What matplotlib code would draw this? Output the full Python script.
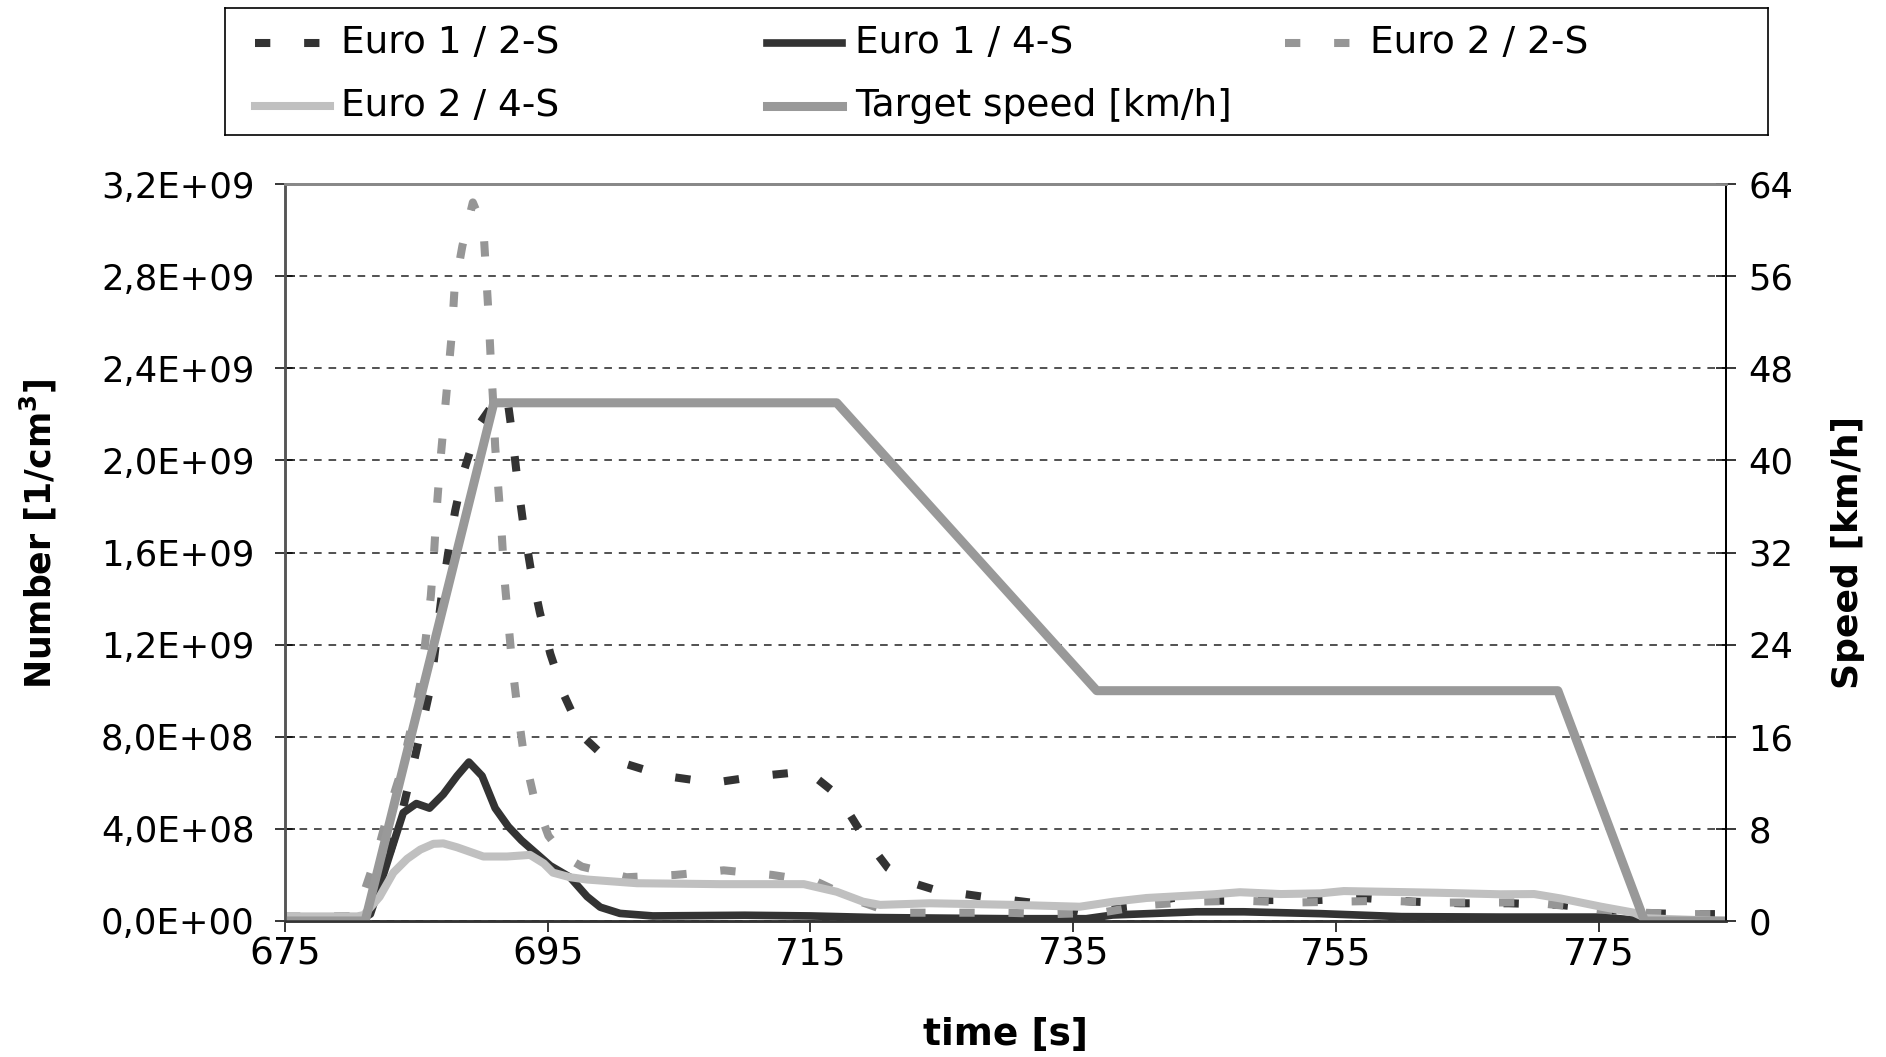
import matplotlib
matplotlib.use("Agg")
import numpy as np
import matplotlib.pyplot as plt
from matplotlib.ticker import FuncFormatter, MultipleLocator

# particle number in units of 1e9 1/cm3, time in s
t_e1_2s = [675, 681, 682, 683, 683.9, 684.65, 685.4, 686.1, 686.5, 686.9, 687.4, 687.95,
           688.65, 689.7, 690.8, 691.9, 692.3, 692.7, 693.15, 693.7, 694.4, 695.2, 696.25,
           697.7, 699, 700.5, 703.9, 707.6, 711.2, 714.8, 717.1, 718.9, 720.9, 722.5, 724.5,
           728.2, 731.8, 735.4, 739.1, 742.65, 746.3, 750.0, 753.6, 757.3, 760.9, 764.5,
           768.2, 772, 775.5, 779.2, 782.6, 784.7]
n_e1_2s = [0.015, 0.02, 0.12, 0.30, 0.47, 0.65, 0.84, 1.02, 1.21, 1.40, 1.59, 1.78,
           1.96, 2.15, 2.24, 2.28, 2.11, 1.91, 1.72, 1.53, 1.34, 1.16, 0.98,
           0.80, 0.73, 0.69, 0.63, 0.60, 0.63, 0.65, 0.545, 0.38, 0.23, 0.17, 0.135,
           0.105, 0.08, 0.04, 0.062, 0.10, 0.088, 0.091, 0.091, 0.099, 0.084, 0.077,
           0.077, 0.07, 0.05, 0.033, 0.03, 0.03]

t_e1_4s = [675, 681, 681.5, 682.2, 683.1, 684.0, 685.0, 686.0, 687.05, 688.1, 689.0, 690.0,
           691.0, 692.0, 693.0, 694.2, 695.2, 696.7, 698.0, 699, 700.5, 703, 710, 715, 720,
           730, 736, 738, 744.4, 748, 753.8, 760, 767.5, 775.2, 778.5, 784.7]
n_e1_4s = [0.013, 0.013, 0.03, 0.15, 0.31, 0.47, 0.51, 0.49, 0.55, 0.63, 0.69, 0.63,
           0.49, 0.41, 0.35, 0.29, 0.24, 0.19, 0.106, 0.06, 0.033, 0.022, 0.025, 0.022, 0.015,
           0.01, 0.01, 0.026, 0.04, 0.04, 0.032, 0.019, 0.017, 0.017, 0.0, 0.0]

t_e2_2s = [675, 680, 680.9, 682.0, 682.9, 683.9, 684.6, 685.3, 685.7, 686.1, 686.35, 686.55,
           686.8, 687.1, 687.4, 687.7, 687.9, 688.5, 689.3, 690.1, 690.3, 690.5, 690.66,
           690.85, 691.0, 691.25, 691.5, 691.7, 692.0, 692.3, 692.7, 693.15, 693.9, 695.05,
           696.3, 697.6, 701.0, 704.7, 708.4, 712.1, 715.5, 718.5, 720.5, 722.5, 726.2,
           729.8, 733.5, 737.1, 740.75, 744.3, 748.0, 751.6, 755.3, 758.9, 762.6, 766.1,
           769.8, 773.5, 776.9, 780.9, 784.7]
n_e2_2s = [0.02, 0.02, 0.105, 0.29, 0.48, 0.66, 0.84, 1.03, 1.22, 1.41, 1.60, 1.79,
           1.98, 2.17, 2.36, 2.55, 2.74, 2.93, 3.12, 3.01, 2.82, 2.63, 2.44,
           2.25, 2.06, 1.87, 1.68, 1.49, 1.30, 1.11, 0.92, 0.735, 0.55, 0.37,
           0.28, 0.236, 0.19, 0.20, 0.22, 0.20, 0.17, 0.09, 0.05, 0.036, 0.036,
           0.036, 0.03, 0.036, 0.07, 0.084, 0.088, 0.08, 0.084, 0.088, 0.08, 0.08,
           0.081, 0.06, 0.04, 0.03, 0.03]

t_e2_4s = [675, 680.5, 681.0, 682.2, 683.25, 684.3, 685.3, 686.3, 687.05, 688.1, 689.1, 690.1,
           691.9, 693.65, 694.7, 695.4, 696.7, 698.0, 701.8, 708.1, 714.5, 717.0, 719.0,
           720.3, 724.1, 730.5, 735.5, 738.1, 740.6, 745.7, 747.7, 750.8, 753.8, 755.6,
           762.5, 767.5, 770.1, 772.1, 775.2, 777.7, 778.6, 784.7]
n_e2_4s = [0.02, 0.02, 0.026, 0.105, 0.21, 0.27, 0.31, 0.335, 0.337, 0.32, 0.30, 0.28,
           0.28, 0.287, 0.25, 0.21, 0.19, 0.18, 0.164, 0.16, 0.16, 0.127, 0.084,
           0.07, 0.077, 0.07, 0.062, 0.084, 0.10, 0.116, 0.125, 0.117, 0.12, 0.13,
           0.123, 0.116, 0.117, 0.098, 0.062, 0.036, 0.012, 0.0]

# target speed [km/h]
speed_t = [675, 681.1, 690.9, 717.0, 736.8, 771.9, 778.5, 784.7]
speed_v = [0, 0, 45, 45, 20, 20, 0, 0]

x_ticks = [675, 695, 715, 735, 755, 775]
labels = ["Euro 1 / 2-S", "Euro 1 / 4-S", "Euro 2 / 2-S", "Euro 2 / 4-S",
          "Target speed [km/h]"]

DARK = "#333333"
MID = "#969696"
LIGHT = "#c0c0c0"
SPEED = "#999999"
DASH = (0, (1.9, 4.2))

styles = {
    "Euro 1 / 2-S": dict(color=DARK, lw=5.8, ls=DASH, dash_capstyle="butt"),
    "Euro 1 / 4-S": dict(color=DARK, lw=5.5),
    "Euro 2 / 2-S": dict(color=MID, lw=5.8, ls=DASH, dash_capstyle="butt"),
    "Euro 2 / 4-S": dict(color=LIGHT, lw=5.8),
    "Target speed [km/h]": dict(color=SPEED, lw=6.5),
}

W, H = 1886, 1057
fig = plt.figure(figsize=(W / 100, H / 100), dpi=100)
fig.set_facecolor("white")

ax = fig.add_axes([285 / W, 1 - 921 / H, 1441 / W, 737 / H])
ax2 = ax.twinx()

series = [(t_e1_2s, n_e1_2s), (t_e1_4s, n_e1_4s), (t_e2_2s, n_e2_2s), (t_e2_4s, n_e2_4s)]
for lab, (t, n) in zip(labels[:4], series):
    ax.plot(t, np.array(n) * 1e9, solid_joinstyle="round", **styles[lab])
ax2.plot(speed_t, speed_v, solid_joinstyle="round", **styles[labels[4]])

ax.set_xlim(675, 784.7)
ax.set_ylim(0, 3.2e9)
ax2.set_ylim(0, 64)
ax.set_xticks(x_ticks)
ax.yaxis.set_major_locator(MultipleLocator(0.4e9))
ax2.yaxis.set_major_locator(MultipleLocator(8))
ax.yaxis.set_major_formatter(FuncFormatter(lambda v, p: f"{v:.1E}".replace(".", ",")))

ax.set_axisbelow(True)
ax.yaxis.grid(True, color="#222222", lw=1.1, linestyle=(0, (5, 4.5)))

ax.tick_params(axis="y", direction="inout", length=14, width=1.1, pad=15, labelsize=25.5)
ax2.tick_params(axis="y", direction="inout", length=14, width=1.1, pad=9, labelsize=25.5)
ax.tick_params(axis="x", direction="out", length=8, width=1.1, pad=3, labelsize=27)

for a in (ax, ax2):
    a.spines["top"].set_color("#888888")
    a.spines["top"].set_linewidth(2)
    a.spines["left"].set_color("#555555")
    a.spines["left"].set_linewidth(1.8)
    a.spines["bottom"].set_color("#333333")
    a.spines["bottom"].set_linewidth(1.8)
    a.spines["right"].set_color("black")
    a.spines["right"].set_linewidth(1.4)

ax.set_xlabel("time [s]", fontsize=27, fontweight="bold")
ax.xaxis.set_label_coords(0.5, -0.13)
ax.set_ylabel(r"Number [1/cm$^{\mathbf{3}}$]", fontsize=25, fontweight="bold")
ax.yaxis.set_label_coords(-0.157, 0.525)
ax2.set_ylabel("Speed [km/h]", fontsize=26, fontweight="bold")
ax2.yaxis.set_label_coords(1.073, 0.5)

# legend box drawn in figure pixel coordinates
lax = fig.add_axes([225 / W, 1 - 135 / H, (1768 - 225) / W, (135 - 8) / H])
lax.set_xlim(225, 1768)
lax.set_ylim(135, 8)
lax.set_xticks([])
lax.set_yticks([])
for s in lax.spines.values():
    s.set_color("black")
    s.set_linewidth(1.2)

cols = [(255, 341), (767, 855), (1285, 1370)]
rows = [43, 106]
slots = [(0, 0), (0, 1), (0, 2), (1, 0), (1, 1)]
for lab, (r, c) in zip(labels, slots):
    hx, tx = cols[c]
    y = rows[r]
    lax.plot([hx, hx + 75], [y, y], **styles[lab])
    lax.text(tx, y, lab, fontsize=27, va="center", ha="left")

fig.savefig("out.png", dpi=100, facecolor="white")
